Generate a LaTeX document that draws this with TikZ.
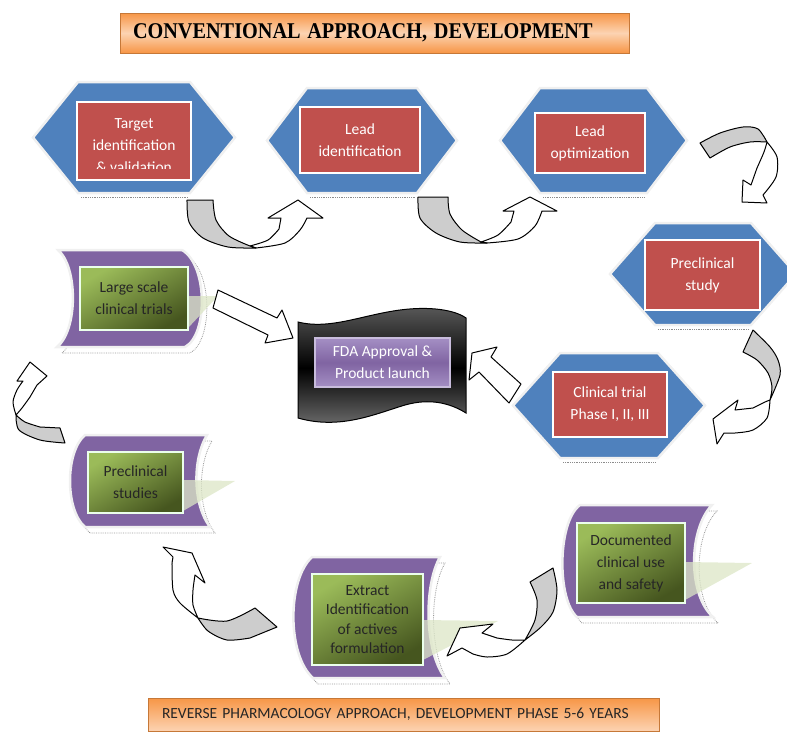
\documentclass[tikz,border=0pt]{standalone}
\usepackage{fontspec}
\setmainfont{Carlito}
\newfontfamily\headfont{Liberation Serif}
\usetikzlibrary{calc}
\tikzset{>=latex}
\definecolor{hexblue}{HTML}{4F81BD}
\definecolor{boxred}{HTML}{C0504D}
\definecolor{scrollpurple}{HTML}{8064A2}
\definecolor{fdapurple}{HTML}{A48FC4}
\definecolor{greenlight}{HTML}{9BBB59}
\definecolor{greendark}{HTML}{46561F}
\definecolor{bandorange}{HTML}{F79646}
\definecolor{bandlight}{HTML}{FCD3B2}
\definecolor{tailgray}{HTML}{CDCDCD}
\definecolor{tripale}{HTML}{DCE6C6}
\colorlet{glow}{black!6}
\tikzstyle{hexa}=[fill=hexblue,draw=glow,line width=2.5pt]
\tikzstyle{hexshade}=[draw=black!45,densely dotted,line width=0.8pt]
\tikzstyle{redbox}=[fill=boxred,draw=white,line width=2.5pt,text=white,align=center,
  font=\fontsize{15.5}{22}\selectfont,inner sep=0pt]
\tikzstyle{scroll}=[fill=scrollpurple,draw=glow,line width=2.5pt,
  preaction={draw=black!40,densely dotted,line width=0.8pt,transform canvas={xshift=5pt,yshift=-6pt}}]
\tikzstyle{greenbox}=[top color=greenlight,bottom color=greendark,shading angle=30,
  draw=green!8!white,line width=1.5pt,text=black!85,align=center,
  font=\fontsize{15.5}{22}\selectfont,inner sep=0pt]
\tikzstyle{halftone}=[fill=tripale,fill opacity=0.75]
\tikzstyle{fdashape}=[top color=black!65,bottom color=black!55,middle color=black,draw=black,line width=1pt]
\tikzstyle{fdabox}=[top color=fdapurple,bottom color=fdapurple,middle color=scrollpurple,
  draw=fdapurple!60!white,line width=1.2pt,text=white,align=center,
  font=\fontsize{15.5}{22}\selectfont,inner sep=0pt]
\tikzstyle{tailpart}=[fill=tailgray,draw=black,line width=1pt,line join=round]
\tikzstyle{headpart}=[fill=white,draw=black,line width=1pt,line join=round]
\tikzstyle{banner}=[draw=bandorange!80!black,line width=0.8pt,align=left,text=black!85]

\newcommand{\hexshape}[5]{%
  \draw[hexa] (#1,{(#3+#4)/2}) -- (#1+#5,#3) -- (#2-#5,#3) -- (#2,{(#3+#4)/2})
    -- (#2-#5,#4) -- (#1+#5,#4) -- cycle;
  \draw[hexshade] (#1+#5+3,#4+4) -- (#2-#5-2,#4+4);}

\begin{document}
\begin{tikzpicture}[x=1pt,y=-1pt]
  \clip (0,0) rectangle (787,734);
  \node[banner,top color=bandorange,bottom color=bandorange,middle color=bandlight,
    minimum width=509,minimum height=40,text width=483,inner xsep=13,text=black,
    font=\headfont\bfseries\fontsize{22.5}{26}\selectfont] (conv) at (374.5,33)
    {\scalebox{0.9}[1]{CONVENTIONAL APPROACH, DEVELOPMENT}};

  % conventional route
  \hexshape{33}{235}{82}{193}{45}
  \hexshape{267}{457}{88}{193}{40}
  \hexshape{500}{687}{88}{193}{40}
  \hexshape{610}{796}{223}{325}{45}
  \hexshape{513}{705}{353}{458}{47}
  \node[redbox,minimum width=114,minimum height=78] (target) at (134,141) {};
  \begin{scope}
    \clip (79,104) rectangle (189,168);
    \node[redbox,draw=none,fill=none,anchor=north] (targettext) at (134,117)
      {Target\\identification\\\& validation};
  \end{scope}
  \node[redbox,minimum width=120,minimum height=66] (leadid) at (360,140) {Lead\\identification};
  \node[redbox,minimum width=110,minimum height=60] (leadopt) at (590,143) {Lead\\optimization};
  \node[redbox,minimum width=115,minimum height=70] (precl) at (702.5,275) {Preclinical\\study};
  \node[redbox,minimum width=114,minimum height=65] (clin) at (610,404.5) {Clinical trial\\Phase I, II, III};

  \draw[fdashape] (298,322) .. controls (330,330) and (362,315) .. (400,310)
    .. controls (430,306) and (455,310) .. (466,318) -- (466,413)
    .. controls (450,403) and (430,398) .. (405,405)
    .. controls (375,414) and (340,430) .. (298,418) -- cycle;
  \node[fdabox,minimum width=135,minimum height=49] (fda) at (382.5,362.5) {FDA Approval \&\\Product launch};

  % reverse route
  \draw[scroll] (58,250) -- (182,250) .. controls (208,265) and (208,335) .. (185,347)
    -- (57,347) .. controls (78,330) and (78,267) .. cycle;
  \fill[halftone] (188,296) -- (218,296) -- (188,328) -- cycle;
  \node[greenbox,minimum width=108,minimum height=63] (large) at (134,298.5) {Large scale\\clinical trials};

  \draw[scroll] (85,435) -- (207,435) .. controls (192,460) and (193,505) .. (210,527)
    -- (85,527) .. controls (65,510) and (65,452) .. cycle;
  \fill[halftone] (183,480) -- (235,481) -- (183,511) -- cycle;
  \node[greenbox,minimum width=95,minimum height=61] (prestud) at (135.5,482.5) {Preclinical\\studies};

  \draw[scroll] (312,557) -- (440,557) .. controls (424,585) and (424,650) .. (445,678)
    -- (313,678) .. controls (287,655) and (287,580) .. cycle;
  \fill[halftone] (423,620) -- (498,621) -- (423,660) -- cycle;
  \node[greenbox,minimum width=111,minimum height=91,font=\fontsize{15.5}{19.5}\selectfont]
    (extract) at (367.5,619.5) {Extract\\Identification\\of actives\\formulation};

  \draw[scroll] (580,505) -- (712,505) .. controls (688,530) and (688,595) .. (713,617)
    -- (577,617) .. controls (557,600) and (557,522) .. cycle;
  \fill[halftone] (685,562) -- (752,563) -- (685,600) -- cycle;
  \node[greenbox,minimum width=108,minimum height=80] (docu) at (631,563) {Documented\\clinical use\\and safety};

  % block arrows into fda
  \draw[headpart] (218,290) -- (277,318) -- (282,310) -- (293,338) -- (265,343) -- (268,335) -- (213,308) -- cycle;
  \draw[headpart] (472,353) -- (497,347) -- (491,357) -- (521,384) -- (509,403) -- (479,372) -- (469,380) -- cycle;

  % curved arrows
  \draw[headpart] plot[smooth] coordinates {(256,248) (285,243) (300,230) (307,218)} -- (323,218) -- (298,200)
    -- (268,218) -- (281,218) -- plot[smooth] coordinates {(279,229) (268,240) (250,246)} -- cycle;
  \draw[tailpart] plot[smooth] coordinates {(187,200) (189,222) (203,238) (228,247) (256,248)}
    -- plot[smooth] coordinates {(250,246) (229,236) (216,220) (213,200)} -- cycle;

  \draw[headpart] plot[smooth] coordinates {(487,243) (518,239) (535,226) (542,211)} -- (557,211) -- (530,197)
    -- (503,211) -- (514,211) -- plot[smooth] coordinates {(511,222) (498,235) (481,242)} -- cycle;
  \draw[tailpart] plot[smooth] coordinates {(418,197) (420,218) (436,233) (460,242) (487,243)}
    -- plot[smooth] coordinates {(481,242) (462,230) (450,214) (448,197)} -- cycle;

  \draw[headpart] plot[smooth] coordinates {(767,142) (777,157) (776,177) (763,195)} -- (767,203) -- (742,202)
    -- (743,180) -- (751,185) -- plot[smooth] coordinates {(757,168) (764,152) (767,142)} -- cycle;
  \draw[tailpart] plot[smooth] coordinates {(700,143) (720,133) (743,127) (758,129) (767,142)}
    -- plot[smooth] coordinates {(767,142) (750,142) (730,147) (710,158)} -- cycle;

  \draw[headpart] plot[smooth] coordinates {(770,400) (767,418) (753,430) (735,433) (724,433)} -- (717,444) -- (713,419)
    -- (738,400) -- (735,410) -- plot[smooth] coordinates {(753,408) (765,402) (770,400)} -- cycle;
  \draw[tailpart] plot[smooth] coordinates {(753,330) (770,347) (778,360) (780,375) (770,400)}
    -- plot[smooth] coordinates {(770,400) (772,387) (768,373) (757,360) (743,352)} -- cycle;

  \draw[headpart] plot[smooth] coordinates {(16,415) (13,402) (17,390) (23,381)} -- (17,381) -- (30,362)
    -- (47,376) -- (37,385) -- plot[smooth] coordinates {(30,397) (22,408) (16,415)} -- cycle;
  \draw[tailpart] plot[smooth] coordinates {(16,415) (19,430) (40,440) (65,443)} -- (60,428)
    -- plot[smooth] coordinates {(40,427) (25,422) (16,415)} -- cycle;

  \draw[headpart] plot[smooth] coordinates {(198,618) (180,603) (173,590) (172,563)} -- (173,557) -- (163,547)
    -- (192,553) -- (205,583) -- plot[smooth] coordinates {(195,575) (193,590) (193,605) (198,618)} -- cycle;
  \draw[tailpart] plot[smooth] coordinates {(198,618) (227,621) (255,608)} -- (277,627)
    -- plot[smooth] coordinates {(250,638) (227,640) (208,631) (198,618)} -- cycle;

  \draw[headpart] plot[smooth] coordinates {(525,640) (507,654) (487,657) (473,654)} -- (462,648) -- (447,656)
    -- (460,628) -- (493,624) -- (482,633) -- plot[smooth] coordinates {(497,638) (512,640) (525,640)} -- cycle;
  \draw[tailpart] plot[smooth] coordinates {(553,568) (557,590) (553,612) (541,627) (525,640)}
    -- plot[smooth] coordinates {(525,640) (535,620) (537,600) (530,582)} -- cycle;

  \node[banner,top color=bandorange,bottom color=bandlight,minimum width=511,minimum height=33,
    text width=483,inner xsep=14,font=\fontsize{15.5}{18}\selectfont] (reverse) at (403.5,714.5)
    {\mbox{REVERSE PHARMACOLOGY APPROACH, DEVELOPMENT PHASE 5-6 YEARS}};
\end{tikzpicture}
\end{document}
